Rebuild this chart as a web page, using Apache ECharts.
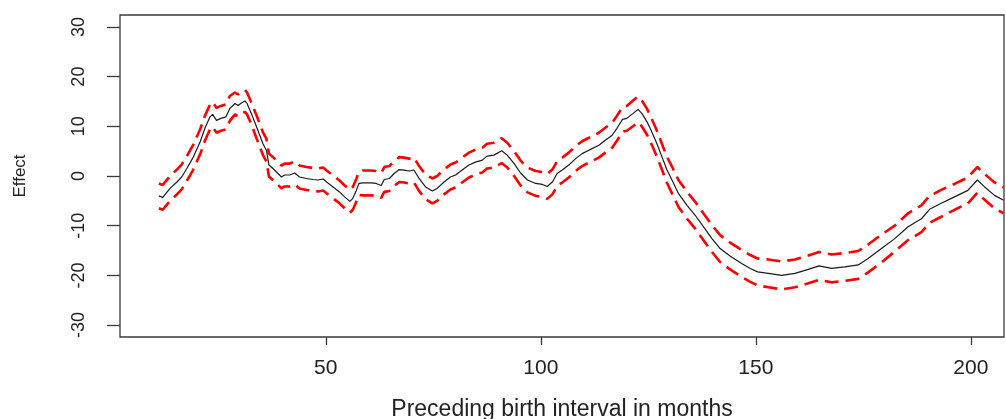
<!DOCTYPE html>
<html>
<head>
<meta charset="utf-8">
<script src="https://cdn.jsdelivr.net/npm/echarts@6/dist/echarts.min.js"></script>
<style>
html,body{margin:0;padding:0;background:#fff;}
#chart{width:1006px;height:419px;}
</style>
</head>
<body>
<div id="chart"></div>
<script>
// Preceding birth interval (months)
const months = [11.2,12.1,13.8,15.4,16.5,17.7,19.2,20.8,21.9,23.1,23.7,24.6,25.6,26.8,27.7,28.9,29.6,30.4,31.2,31.7,32.7,33.9,35.4,36.2,36.8,38.1,39.7,40.4,41.6,42.8,43.9,45.5,47.1,48.2,49.4,50.2,51.7,53.2,54.4,55.6,56.3,57.1,57.7,58.6,60.6,61.7,62.9,63.6,64.8,65.9,67.1,68.2,69.4,70.5,71.7,73.2,74.8,75.9,77.5,79.0,80.2,81.7,83.3,84.8,86.4,87.5,89.1,90.9,92.2,93.8,95.3,96.9,98.8,100.4,101.5,102.7,103.8,105.0,106.5,108.1,109.6,111.2,113.5,115.0,116.6,117.7,119.0,120.0,121.6,122.6,123.5,124.7,125.8,127.0,128.2,129.3,130.5,132.0,134.0,135.9,137.8,139.8,141.7,144.0,146.7,148.7,150.4,152.9,156.0,159.1,162.2,164.7,167.6,170.7,173.8,176.1,179.2,182.3,185.4,188.5,190.4,193.1,196.2,199.3,201.5,203.2,205.5,207.6];
// Estimated effect
const effect = [-4.0,-4.3,-2.5,-1.2,-0.2,1.5,3.8,6.9,9.6,11.9,12.4,11.2,11.6,11.9,13.6,14.6,14.2,14.7,15.1,14.6,12.6,9.9,6.5,5.2,2.2,1.2,-0.2,0.2,0.2,0.6,-0.2,-0.5,-0.7,-0.8,-0.6,-1.2,-2.2,-3.2,-4.2,-5.1,-4.5,-2.9,-1.5,-1.4,-1.4,-1.5,-1.9,-0.7,-0.5,0.5,1.3,1.2,1.0,1.2,-0.5,-2.2,-3.0,-2.5,-1.2,-0.2,0.2,1.2,2.2,2.8,3.2,4.0,4.2,5.1,4.2,2.5,0.6,-0.8,-1.5,-1.7,-2.1,-1.2,0.5,1.2,2.2,3.5,4.5,5.2,6.2,7.2,8.2,9.6,11.4,11.6,12.7,13.4,12.6,10.9,8.9,6.5,3.8,1.3,-0.8,-3.5,-5.9,-7.9,-10.2,-12.6,-14.6,-16.1,-17.6,-18.6,-19.3,-19.6,-20.0,-19.6,-18.8,-18.1,-18.6,-18.3,-17.9,-16.6,-14.6,-12.6,-10.2,-8.6,-6.7,-5.5,-4.2,-2.9,-0.8,-2.2,-3.9,-4.9];
// Upper confidence band
const upper = [-1.5,-1.8,0.0,1.3,2.3,4.0,6.3,9.4,12.1,14.4,14.9,13.7,14.1,14.4,16.1,16.8,16.4,16.9,17.3,16.8,14.8,12.2,8.8,7.5,4.5,3.5,2.1,2.5,2.5,2.9,2.1,1.8,1.6,1.5,1.7,1.1,0.1,-0.9,-1.9,-2.8,-2.2,-0.6,0.8,1.1,1.1,1.0,0.6,1.8,2.0,3.0,3.8,3.7,3.5,3.7,2.0,0.3,-0.5,0.0,1.3,2.3,2.7,3.7,4.7,5.3,5.7,6.5,6.7,7.6,6.7,5.0,3.1,1.7,1.0,0.8,0.4,1.3,3.0,3.7,4.7,6.0,7.0,7.7,8.7,9.7,10.7,12.1,13.9,14.1,15.3,16.0,15.2,13.5,11.5,9.1,6.4,3.9,1.9,-0.8,-3.2,-5.2,-7.5,-9.9,-11.9,-13.4,-14.9,-15.9,-16.6,-16.8,-17.2,-16.8,-16.0,-15.3,-15.8,-15.5,-15.1,-13.8,-11.8,-10.0,-7.5,-5.9,-4.0,-2.8,-1.6,-0.3,1.8,0.4,-1.3,-2.3];
// Lower confidence band
const lower = [-6.5,-6.8,-5.0,-3.7,-2.7,-1.0,1.3,4.4,7.1,9.4,9.9,8.7,9.1,9.4,11.1,12.4,12.0,12.5,12.9,12.4,10.4,7.6,4.2,2.9,-0.1,-1.1,-2.5,-2.1,-2.1,-1.7,-2.5,-2.8,-3.0,-3.1,-2.9,-3.5,-4.5,-5.5,-6.5,-7.4,-6.8,-5.2,-3.8,-3.9,-3.9,-4.0,-4.4,-3.2,-3.0,-2.0,-1.2,-1.3,-1.5,-1.3,-3.0,-4.7,-5.5,-5.0,-3.7,-2.7,-2.3,-1.3,-0.3,0.3,0.7,1.5,1.7,2.6,1.7,0.0,-1.9,-3.3,-4.0,-4.2,-4.6,-3.7,-2.0,-1.3,-0.3,1.0,2.0,2.7,3.7,4.7,5.7,7.1,8.9,9.1,10.1,10.8,10.0,8.3,6.3,3.9,1.2,-1.3,-3.5,-6.2,-8.6,-10.6,-12.9,-15.3,-17.3,-18.8,-20.3,-21.3,-22.0,-22.4,-22.8,-22.4,-21.6,-20.9,-21.4,-21.1,-20.7,-19.4,-17.4,-15.2,-12.9,-11.3,-9.4,-8.2,-6.8,-5.5,-3.4,-4.8,-6.5,-7.5];
const xTicks = [50,100,150,200];
const yTicks = [-30,-20,-10,0,10,20,30];

const pair = (ys) => months.map((m,i)=>[m, ys[i]]);
const chart = echarts.init(document.getElementById('chart'), null, {renderer:'canvas'});
const FONT = 'Liberation Sans, Arial, sans-serif';
chart.setOption({
  animation:false,
  backgroundColor:'#fff',
  grid:{left:120,right:2,top:15,bottom:82,outerBoundsMode:'none',containLabel:false,show:true,borderColor:'#3a3a3a',borderWidth:1.3,backgroundColor:'transparent'},
  xAxis:{
    type:'value', min:2.16, max:207.7,
    name:'Preceding birth interval in months', nameLocation:'middle', nameGap:61,
    nameTextStyle:{fontFamily:FONT,fontSize:23,color:'#222'},
    axisLine:{show:false,onZero:false},
    axisTick:{show:true,length:8,lineStyle:{color:'#3a3a3a',width:1.3},customValues:xTicks},
    axisLabel:{fontFamily:FONT,fontSize:21,color:'#222',margin:21,customValues:xTicks},
    splitLine:{show:false}
  },
  yAxis:{
    type:'value', min:-32.4, max:32.4,
    name:'Effect', nameLocation:'middle', nameGap:91, nameRotate:90,
    nameTextStyle:{fontFamily:FONT,fontSize:17,color:'#222'},
    axisLine:{show:false,onZero:false},
    axisTick:{show:true,length:13,lineStyle:{color:'#3a3a3a',width:1.3},customValues:yTicks},
    axisLabel:{fontFamily:FONT,fontSize:18,color:'#222',rotate:90,margin:32,customValues:yTicks},
    splitLine:{show:false}
  },
  series:[
    {type:'line',data:pair(upper),showSymbol:false,symbol:'none',lineStyle:{color:'#ff0000',width:2.6,type:[14,7]},z:2},
    {type:'line',data:pair(lower),showSymbol:false,symbol:'none',lineStyle:{color:'#ff0000',width:2.6,type:[14,7]},z:2},
    {type:'line',data:pair(effect),showSymbol:false,symbol:'none',lineStyle:{color:'#1a1a1a',width:1.2},z:3}
  ]
});
</script>
</body>
</html>
